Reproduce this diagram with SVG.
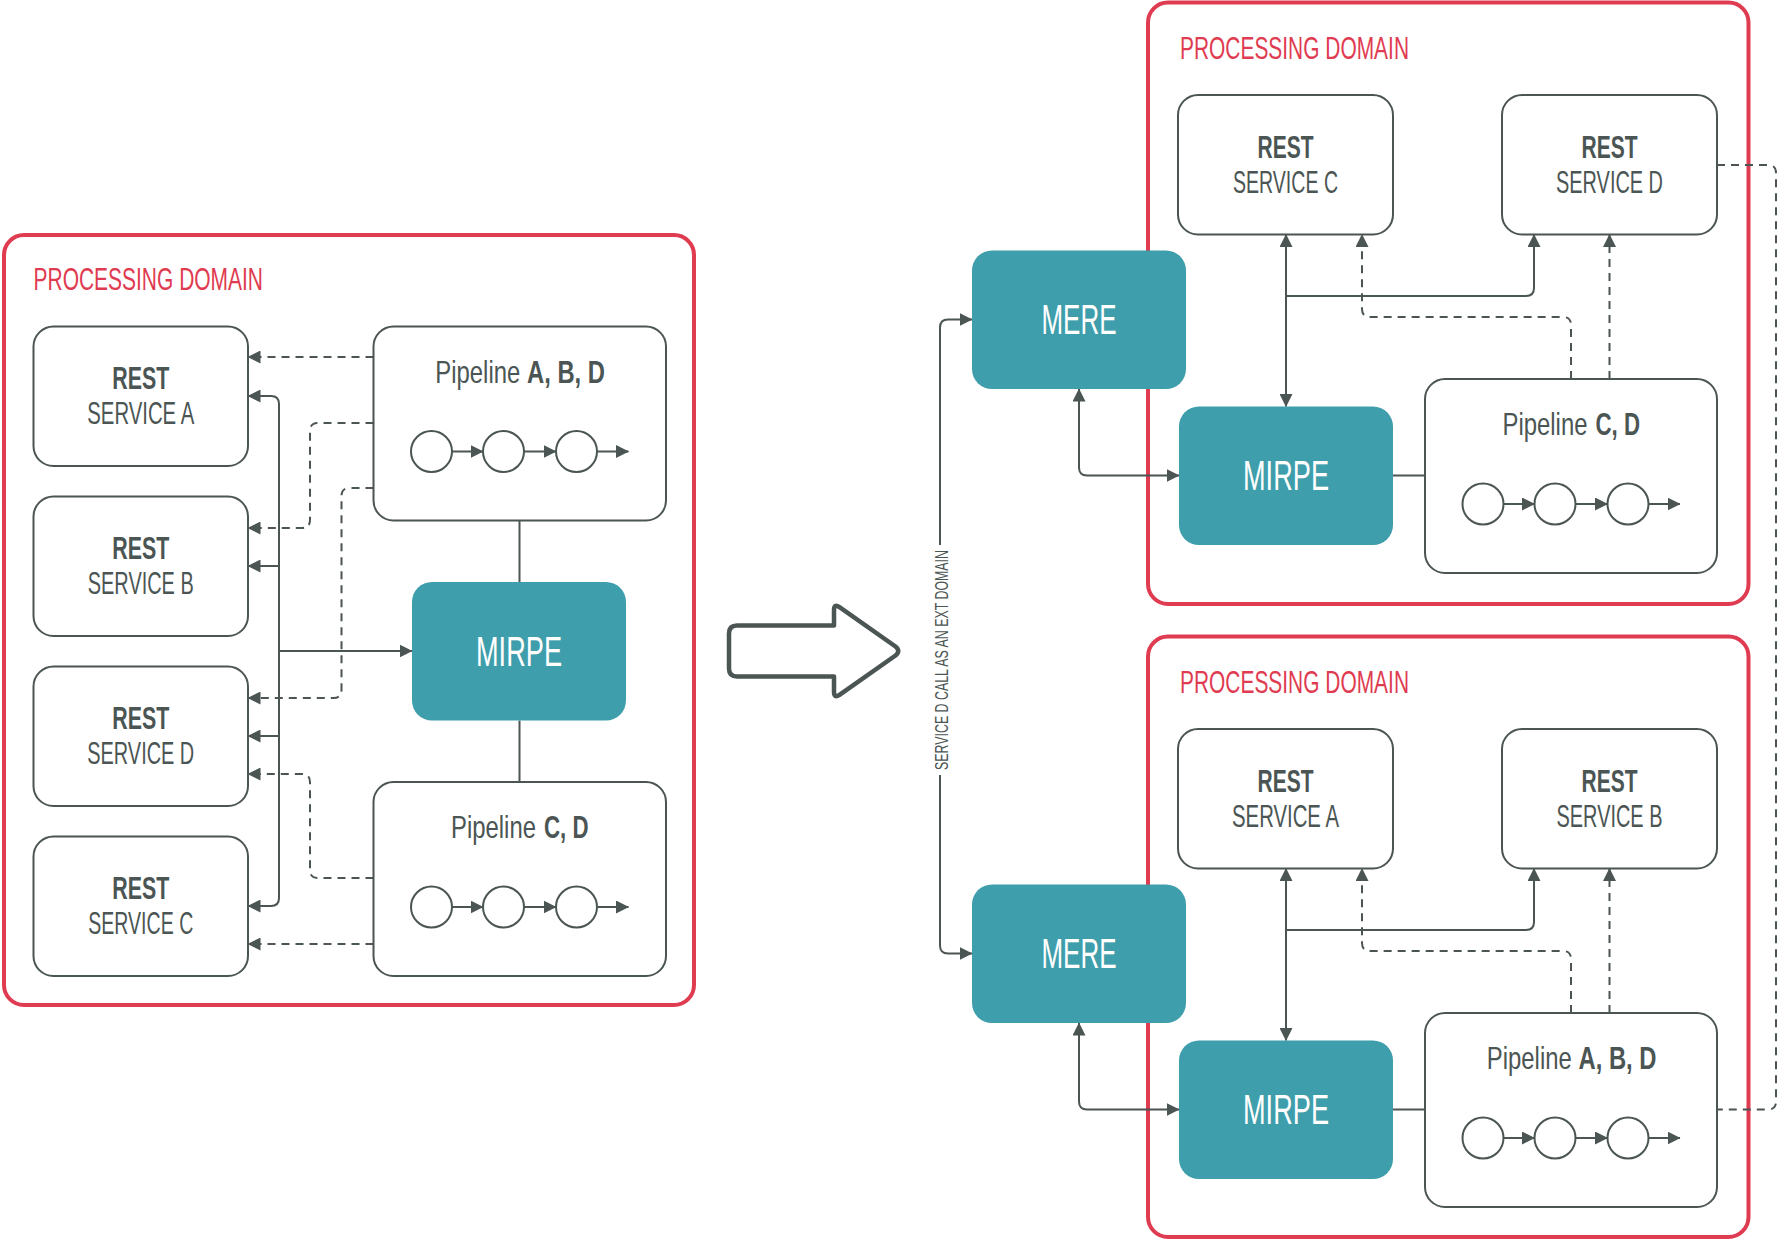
<svg xmlns="http://www.w3.org/2000/svg" xmlns:xlink="http://www.w3.org/1999/xlink" width="1781" height="1240" viewBox="0 0 1781 1240">
  <style>
    .domain { fill: #ffffff; stroke: #df3b51; stroke-width: 4; }
    .box { fill: #ffffff; stroke: #4b5553; stroke-width: 2; }
    .teal { fill: #3f9eab; }
    .line { fill: none; stroke: #4b5553; stroke-width: 2; }
    .dash { stroke-dasharray: 8 6; }
    .txt { font-family: "Liberation Sans", Arial, sans-serif; font-size: 32px; fill: #4b5553; }
    .dtxt { font-family: "Liberation Sans", Arial, sans-serif; font-size: 32px; fill: #df3b51; }
    .wtxt { font-family: "Liberation Sans", Arial, sans-serif; font-size: 42px; fill: #ffffff; }
    .small { font-family: "Liberation Sans", Arial, sans-serif; font-size: 19px; fill: #4b5553; }
    .b { font-weight: bold; }
  </style>
  <defs>
    <marker id="ah" viewBox="0 0 13 13" refX="12.5" refY="6.5" markerWidth="13" markerHeight="13" markerUnits="userSpaceOnUse" orient="auto-start-reverse">
      <path d="M0,0 L13,6.5 L0,13 z" fill="#4b5553"/>
    </marker>
    <!-- three-stage pipeline glyph, positioned relative to the pipeline box corner -->
    <g id="chain">
      <circle cx="58" cy="125" r="20.5" class="box"/>
      <circle cx="130" cy="125" r="20.5" class="box"/>
      <circle cx="203" cy="125" r="20.5" class="box"/>
      <path class="line" d="M78.5 125 H109.5" marker-end="url(#ah)"/>
      <path class="line" d="M150.5 125 H182.5" marker-end="url(#ah)"/>
      <path class="line" d="M223.5 125 H255" marker-end="url(#ah)"/>
    </g>
  </defs>

  <rect width="1781" height="1240" fill="#ffffff"/>

  <!-- domain frames -->
  <g id="domain-left">
    <rect class="domain" x="4" y="235" width="690" height="770" rx="20"/>
    <text class="dtxt" x="33.5" y="290" textLength="229.5" lengthAdjust="spacingAndGlyphs">PROCESSING DOMAIN</text>
  </g>
  <g id="domain-right-top">
    <rect class="domain" x="1148" y="2.5" width="600.5" height="601.5" rx="20"/>
    <text class="dtxt" x="1180" y="58.5" textLength="229" lengthAdjust="spacingAndGlyphs">PROCESSING DOMAIN</text>
  </g>
  <g id="domain-right-bottom">
    <rect class="domain" x="1148" y="636.5" width="600.5" height="600.5" rx="20"/>
    <text class="dtxt" x="1180" y="692.5" textLength="229" lengthAdjust="spacingAndGlyphs">PROCESSING DOMAIN</text>
  </g>

  <!-- connectors -->
  <g id="connectors">
    <!-- left: MIRPE bus to services -->
    <path class="line" d="M248 396 H271 Q279 396 279 404 V898 Q279 906 271 906 H248" marker-start="url(#ah)" marker-end="url(#ah)"/>
    <path class="line" d="M279 566 H248" marker-end="url(#ah)"/>
    <path class="line" d="M279 736 H248" marker-end="url(#ah)"/>
    <path class="line" d="M279 651 H412" marker-end="url(#ah)"/>
    <path class="line" d="M519.5 520.5 V582"/>
    <path class="line" d="M519.5 720.5 V782"/>
    <!-- left: pipelines to services -->
    <path class="line dash" d="M373.5 357 H248" marker-end="url(#ah)"/>
    <path class="line dash" d="M373.5 423 H318 Q310 423 310 431 V520 Q310 528 302 528 H248" marker-end="url(#ah)"/>
    <path class="line dash" d="M373.5 488 H349.5 Q341.5 488 341.5 496 V690 Q341.5 698 333.5 698 H248" marker-end="url(#ah)"/>
    <path class="line dash" d="M373.5 878 H318 Q310 878 310 870 V782 Q310 774 302 774 H248" marker-end="url(#ah)"/>
    <path class="line dash" d="M373.5 944 H248" marker-end="url(#ah)"/>

    <!-- right top domain -->
    <path class="line" d="M1393 475.5 H1425"/>
    <path class="line" d="M1286 234.5 V406.5" marker-start="url(#ah)" marker-end="url(#ah)"/>
    <path class="line" d="M1286 296 H1526 Q1534 296 1534 288 V234.5" marker-end="url(#ah)"/>
    <path class="line dash" d="M1571 379 V325 Q1571 317 1563 317 H1370 Q1362 317 1362 309 V234.5" marker-end="url(#ah)"/>
    <path class="line dash" d="M1609.5 379 V234.5" marker-end="url(#ah)"/>
    <path class="line" d="M1079 389 V467.5 Q1079 475.5 1087 475.5 H1179" marker-start="url(#ah)" marker-end="url(#ah)"/>

    <!-- right bottom domain -->
    <path class="line" d="M1393 1109.5 H1425"/>
    <path class="line" d="M1286 868.5 V1040.5" marker-start="url(#ah)" marker-end="url(#ah)"/>
    <path class="line" d="M1286 930 H1526 Q1534 930 1534 922 V868.5" marker-end="url(#ah)"/>
    <path class="line dash" d="M1571 1013 V959 Q1571 951 1563 951 H1370 Q1362 951 1362 943 V868.5" marker-end="url(#ah)"/>
    <path class="line dash" d="M1609.5 1013 V868.5" marker-end="url(#ah)"/>
    <path class="line" d="M1079 1023 V1101.5 Q1079 1109.5 1087 1109.5 H1179" marker-start="url(#ah)" marker-end="url(#ah)"/>

    <!-- external domain call between the two MERE instances -->
    <path class="line" d="M940 545 V327.5 Q940 319.5 948 319.5 H972" marker-end="url(#ah)"/>
    <path class="line" d="M940 775 V945.5 Q940 953.5 948 953.5 H972" marker-end="url(#ah)"/>
    <text class="small" transform="translate(947.5 660) rotate(-90)" text-anchor="middle" textLength="220" lengthAdjust="spacingAndGlyphs">SERVICE D CALL AS AN EXT DOMAIN</text>

    <!-- service D reached from the other domain's pipeline -->
    <path class="line dash" d="M1717 165 H1768 Q1776 165 1776 173 V1101.5 Q1776 1109.5 1768 1109.5 H1717"/>
  </g>

  <!-- transition arrow -->
  <g id="transition-arrow">
    <path d="M737 625.5 H834 V610 Q834 603.5 839.5 607.2 L895.5 646.5 Q901 651 895.5 655.5 L839.5 694.8 Q834 698.5 834 692 V676.5 H737 Q729 676.5 729 668.5 V633.5 Q729 625.5 737 625.5 Z" fill="#ffffff" stroke="#4b5553" stroke-width="4.5" stroke-linejoin="round"/>
  </g>

  <!-- left domain nodes -->
  <g id="service-a-left">
    <rect class="box" x="33.5" y="326.5" width="214.5" height="139.5" rx="20"/>
    <text class="txt b" x="140.75" y="389" text-anchor="middle" textLength="57" lengthAdjust="spacingAndGlyphs">REST</text>
    <text class="txt" x="140.75" y="424" text-anchor="middle" textLength="107" lengthAdjust="spacingAndGlyphs">SERVICE A</text>
  </g>
  <g id="service-b-left">
    <rect class="box" x="33.5" y="496.5" width="214.5" height="139.5" rx="20"/>
    <text class="txt b" x="140.75" y="559" text-anchor="middle" textLength="57" lengthAdjust="spacingAndGlyphs">REST</text>
    <text class="txt" x="140.75" y="594" text-anchor="middle" textLength="106" lengthAdjust="spacingAndGlyphs">SERVICE B</text>
  </g>
  <g id="service-d-left">
    <rect class="box" x="33.5" y="666.5" width="214.5" height="139.5" rx="20"/>
    <text class="txt b" x="140.75" y="729" text-anchor="middle" textLength="57" lengthAdjust="spacingAndGlyphs">REST</text>
    <text class="txt" x="140.75" y="764" text-anchor="middle" textLength="107" lengthAdjust="spacingAndGlyphs">SERVICE D</text>
  </g>
  <g id="service-c-left">
    <rect class="box" x="33.5" y="836.5" width="214.5" height="139.5" rx="20"/>
    <text class="txt b" x="140.75" y="899" text-anchor="middle" textLength="57" lengthAdjust="spacingAndGlyphs">REST</text>
    <text class="txt" x="140.75" y="934" text-anchor="middle" textLength="105" lengthAdjust="spacingAndGlyphs">SERVICE C</text>
  </g>
  <g id="pipeline-abd-left">
    <rect class="box" x="373.5" y="326.5" width="292.5" height="194" rx="20"/>
    <text class="txt" x="435.3" y="382.5" textLength="85" lengthAdjust="spacingAndGlyphs">Pipeline</text>
    <text class="txt b" x="527" y="382.5" textLength="78" lengthAdjust="spacingAndGlyphs">A, B, D</text>
    <use xlink:href="#chain" href="#chain" x="373.5" y="326.5"/>
  </g>
  <g id="mirpe-left">
    <rect class="teal" x="412" y="582" width="214" height="138.5" rx="20"/>
    <text class="wtxt" x="519" y="666" text-anchor="middle" textLength="86" lengthAdjust="spacingAndGlyphs">MIRPE</text>
  </g>
  <g id="pipeline-cd-left">
    <rect class="box" x="373.5" y="782" width="292.5" height="194" rx="20"/>
    <text class="txt" x="451" y="838" textLength="85" lengthAdjust="spacingAndGlyphs">Pipeline</text>
    <text class="txt b" x="544" y="838" textLength="44.5" lengthAdjust="spacingAndGlyphs">C, D</text>
    <use xlink:href="#chain" href="#chain" x="373.5" y="782"/>
  </g>

  <!-- right top domain nodes -->
  <g id="mere-top">
    <rect class="teal" x="972" y="250.5" width="214" height="138.5" rx="20"/>
    <text class="wtxt" x="1079" y="334" text-anchor="middle" textLength="75" lengthAdjust="spacingAndGlyphs">MERE</text>
  </g>
  <g id="service-c-right">
    <rect class="box" x="1178" y="95" width="215" height="139.5" rx="20"/>
    <text class="txt b" x="1285.5" y="157.5" text-anchor="middle" textLength="56" lengthAdjust="spacingAndGlyphs">REST</text>
    <text class="txt" x="1285.5" y="192.5" text-anchor="middle" textLength="105" lengthAdjust="spacingAndGlyphs">SERVICE C</text>
  </g>
  <g id="service-d-right">
    <rect class="box" x="1502" y="95" width="215" height="139.5" rx="20"/>
    <text class="txt b" x="1609.5" y="157.5" text-anchor="middle" textLength="56" lengthAdjust="spacingAndGlyphs">REST</text>
    <text class="txt" x="1609.5" y="192.5" text-anchor="middle" textLength="107" lengthAdjust="spacingAndGlyphs">SERVICE D</text>
  </g>
  <g id="mirpe-top">
    <rect class="teal" x="1179" y="406.5" width="214" height="138.5" rx="20"/>
    <text class="wtxt" x="1286" y="490" text-anchor="middle" textLength="86" lengthAdjust="spacingAndGlyphs">MIRPE</text>
  </g>
  <g id="pipeline-cd-right">
    <rect class="box" x="1425" y="379" width="292" height="194" rx="20"/>
    <text class="txt" x="1502.5" y="435" textLength="85" lengthAdjust="spacingAndGlyphs">Pipeline</text>
    <text class="txt b" x="1595.5" y="435" textLength="44.5" lengthAdjust="spacingAndGlyphs">C, D</text>
    <use xlink:href="#chain" href="#chain" x="1425" y="379"/>
  </g>

  <!-- right bottom domain nodes -->
  <g id="mere-bottom">
    <rect class="teal" x="972" y="884.5" width="214" height="138.5" rx="20"/>
    <text class="wtxt" x="1079" y="968" text-anchor="middle" textLength="75" lengthAdjust="spacingAndGlyphs">MERE</text>
  </g>
  <g id="service-a-right">
    <rect class="box" x="1178" y="729" width="215" height="139.5" rx="20"/>
    <text class="txt b" x="1285.5" y="791.5" text-anchor="middle" textLength="56" lengthAdjust="spacingAndGlyphs">REST</text>
    <text class="txt" x="1285.5" y="826.5" text-anchor="middle" textLength="107" lengthAdjust="spacingAndGlyphs">SERVICE A</text>
  </g>
  <g id="service-b-right">
    <rect class="box" x="1502" y="729" width="215" height="139.5" rx="20"/>
    <text class="txt b" x="1609.5" y="791.5" text-anchor="middle" textLength="56" lengthAdjust="spacingAndGlyphs">REST</text>
    <text class="txt" x="1609.5" y="826.5" text-anchor="middle" textLength="106" lengthAdjust="spacingAndGlyphs">SERVICE B</text>
  </g>
  <g id="mirpe-bottom">
    <rect class="teal" x="1179" y="1040.5" width="214" height="138.5" rx="20"/>
    <text class="wtxt" x="1286" y="1124" text-anchor="middle" textLength="86" lengthAdjust="spacingAndGlyphs">MIRPE</text>
  </g>
  <g id="pipeline-abd-right">
    <rect class="box" x="1425" y="1013" width="292" height="194" rx="20"/>
    <text class="txt" x="1486.8" y="1069" textLength="85" lengthAdjust="spacingAndGlyphs">Pipeline</text>
    <text class="txt b" x="1578.5" y="1069" textLength="78" lengthAdjust="spacingAndGlyphs">A, B, D</text>
    <use xlink:href="#chain" href="#chain" x="1425" y="1013"/>
  </g>
</svg>
